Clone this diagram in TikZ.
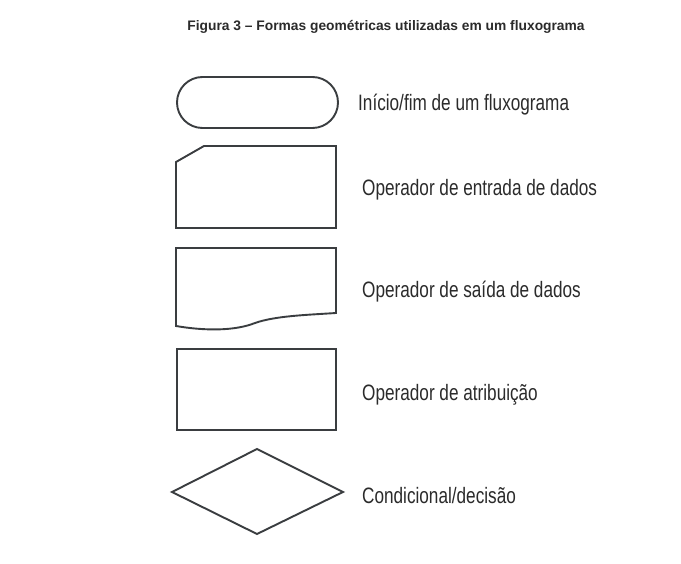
\documentclass[tikz,border=0pt]{standalone}
\usepackage{fontspec}
\setmainfont{Liberation Sans}
\newfontfamily\condfont[FakeStretch=0.77]{Liberation Sans}
\definecolor{shapeline}{HTML}{3A3D40}
\definecolor{txt}{HTML}{2B2B2B}
\begin{document}
\begin{tikzpicture}[x=1pt,y=-1pt,
  shapestyle/.style={draw=shapeline,line width=1.9pt,line join=miter},
  lbl/.style={anchor=base west,inner sep=0pt,text=txt,font=\condfont\fontsize{22.3}{25}\selectfont},
  ttl/.style={anchor=base,inner sep=0pt,text=txt,font=\bfseries\fontsize{13.8}{16}\selectfont}]
\useasboundingbox[fill=white] (0,0) rectangle (681,564);
\node[ttl] (title) at (386,30.5) {Figura 3 – Formas geométricas utilizadas em um fluxograma};
% terminal
\draw[shapestyle,rounded corners=25.5pt] (177,77) rectangle (338,128);
% input
\draw[shapestyle] (176,162) -- (204,146) -- (336,146) -- (336,228) -- (176,228) -- cycle;
% output document
\draw[shapestyle] (176,326) -- (176,248) -- (336,248) -- (336,313)
  .. controls (305,315) and (275,316) .. (255,323)
  .. controls (235,331) and (205,331) .. (176,326) -- cycle;
% process
\draw[shapestyle] (177,349) rectangle (336,430);
% decision
\draw[shapestyle] (172,492) -- (257,449) -- (343,492) -- (257,534) -- cycle;
% labels
\node[lbl] (l1) at (358,111) {Início/fim de um fluxograma};
\node[lbl] (l2) at (362,196) {Operador de entrada de dados};
\node[lbl] (l3) at (362,298) {Operador de saída de dados};
\node[lbl] (l4) at (362,401) {Operador de atribuição};
\node[lbl] (l5) at (362,503) {Condicional/decisão};
\end{tikzpicture}
\end{document}
